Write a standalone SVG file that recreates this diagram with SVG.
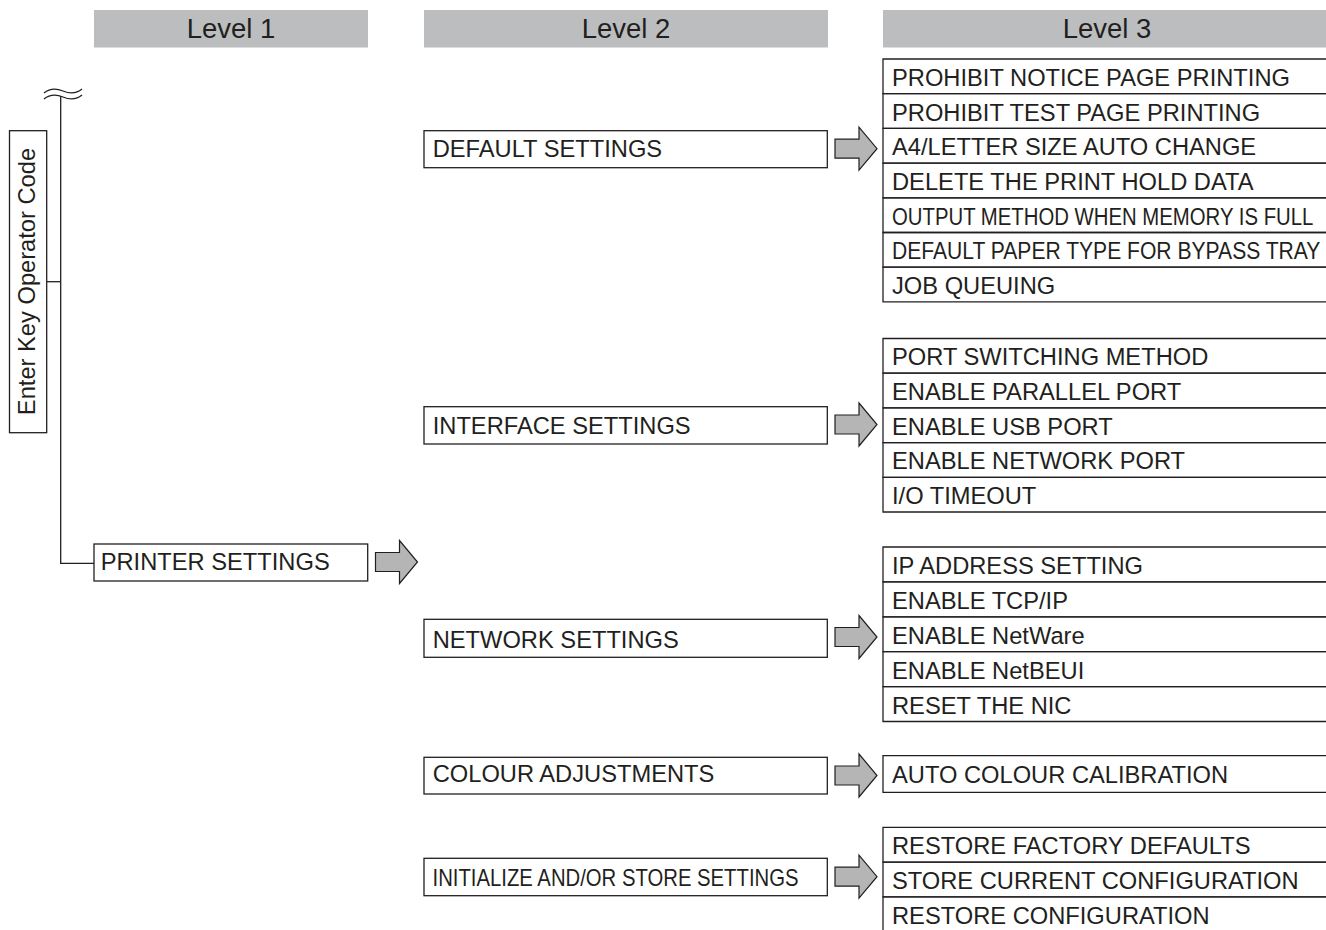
<svg xmlns="http://www.w3.org/2000/svg" width="1326" height="930" viewBox="0 0 1326 930">
<style>
  .hdr{fill:#bcbdbf;stroke:none}
  .ht{font-family:"Liberation Sans",Arial,sans-serif;font-size:27.5px;fill:#231f20;text-anchor:middle}
  .box{fill:#fff;stroke:#231f20;stroke-width:1.3}
  .row{fill:none;stroke:#231f20;stroke-width:1.3}
  .t{font-family:"Liberation Sans",Arial,sans-serif;font-size:23.7px;fill:#231f20}
  .ln{fill:none;stroke:#231f20;stroke-width:1.3}
  .arr{fill:#b5b5b5;stroke:#231f20;stroke-width:1.2;stroke-linejoin:miter}
</style>
<defs>
  <path id="arrow" d="M0,-9.5 H24 V-21.5 L42,0 L24,21.5 V9.5 H0 Z"/>
</defs>
<rect width="1326" height="930" fill="#fff"/>

<g id="headers">
  <rect class="hdr" x="94" y="10" width="274" height="37.5"/>
  <text class="ht" x="231" y="38">Level 1</text>
  <rect class="hdr" x="424" y="10" width="404" height="37.5"/>
  <text class="ht" x="626" y="38">Level 2</text>
  <rect class="hdr" x="883" y="10" width="443" height="37.5"/>
  <text class="ht" x="1107" y="38">Level 3</text>
</g>

<g id="connectors">
  <path class="ln" d="M44,93 C50,88 56,88 63,91 C70,94 76,94 82,89"/>
  <path class="ln" d="M44,99 C50,94 56,94 63,97 C70,100 76,100 82,95"/>
  <path class="ln" d="M60.7,96 V563.3 H94"/>
  <path class="ln" d="M46.7,281.7 H60.7"/>
  <use href="#arrow" class="arr" transform="translate(375.5,562)"/>
  <use href="#arrow" class="arr" transform="translate(835,148.7)"/>
  <use href="#arrow" class="arr" transform="translate(835,424.5)"/>
  <use href="#arrow" class="arr" transform="translate(835,637)"/>
  <use href="#arrow" class="arr" transform="translate(835,775.5)"/>
  <use href="#arrow" class="arr" transform="translate(835,876.7)"/>
</g>

<g id="enter-key">
  <rect class="box" x="9.5" y="130.7" width="37.2" height="302"/>
  <text class="t" text-anchor="middle" transform="translate(35.3,281.5) rotate(-90)">Enter Key Operator Code</text>
</g>

<g id="printer-settings">
  <rect class="box" x="94" y="544" width="273.7" height="37"/>
  <text class="t" x="100.7" y="569.5">PRINTER SETTINGS</text>
</g>

<g id="default-settings">
  <rect class="box" x="424" y="130.7" width="403.3" height="37"/>
  <text class="t" x="432.7" y="157">DEFAULT SETTINGS</text>
</g>
<g id="interface-settings">
  <rect class="box" x="424" y="406.7" width="403.3" height="37.3"/>
  <text class="t" x="432.7" y="434">INTERFACE SETTINGS</text>
</g>
<g id="network-settings">
  <rect class="box" x="424" y="619.3" width="403.3" height="38"/>
  <text class="t" x="432.7" y="648">NETWORK SETTINGS</text>
</g>
<g id="colour-adjustments">
  <rect class="box" x="424" y="757.3" width="403.3" height="36.7"/>
  <text class="t" x="432.7" y="782.3">COLOUR ADJUSTMENTS</text>
</g>
<g id="initialize-store">
  <rect class="box" x="424" y="858.3" width="403.3" height="37.4"/>
  <text class="t" x="432.5" y="885.7" textLength="366" lengthAdjust="spacingAndGlyphs">INITIALIZE AND/OR STORE SETTINGS</text>
</g>

<!-- Level 3: default settings -->
<g id="l3-prohibit-notice"><path class="row" d="M1326,59 H883 V93.7 H1326"/><text class="t" x="892" y="86">PROHIBIT NOTICE PAGE PRINTING</text></g>
<g id="l3-prohibit-test"><path class="row" d="M1326,93.7 H883 V128.4 H1326"/><text class="t" x="892" y="120.5">PROHIBIT TEST PAGE PRINTING</text></g>
<g id="l3-a4-letter"><path class="row" d="M1326,128.4 H883 V163.1 H1326"/><text class="t" x="892" y="155.2">A4/LETTER SIZE AUTO CHANGE</text></g>
<g id="l3-delete-hold"><path class="row" d="M1326,163.1 H883 V197.8 H1326"/><text class="t" x="892" y="189.9">DELETE THE PRINT HOLD DATA</text></g>
<g id="l3-output-method"><path class="row" d="M1326,197.8 H883 V232.5 H1326"/><text class="t" transform="translate(892,224.6) scale(0.858,1)" x="0" y="0">OUTPUT METHOD WHEN MEMORY IS FULL</text></g>
<g id="l3-default-paper"><path class="row" d="M1326,232.5 H883 V267.2 H1326"/><text class="t" transform="translate(892,259.3) scale(0.89,1)" x="0" y="0">DEFAULT PAPER TYPE FOR BYPASS TRAY</text></g>
<g id="l3-job-queuing"><path class="row" d="M1326,267.2 H883 V301.9 H1326"/><text class="t" x="892" y="294">JOB QUEUING</text></g>

<!-- Level 3: interface settings -->
<g id="l3-port-switching"><path class="row" d="M1326,338.5 H883 V373.2 H1326"/><text class="t" x="892" y="365.3">PORT SWITCHING METHOD</text></g>
<g id="l3-parallel"><path class="row" d="M1326,373.2 H883 V407.9 H1326"/><text class="t" x="892" y="400">ENABLE PARALLEL PORT</text></g>
<g id="l3-usb"><path class="row" d="M1326,407.9 H883 V442.6 H1326"/><text class="t" x="892" y="434.7">ENABLE USB PORT</text></g>
<g id="l3-network-port"><path class="row" d="M1326,442.6 H883 V477.3 H1326"/><text class="t" x="892" y="469.4">ENABLE NETWORK PORT</text></g>
<g id="l3-io-timeout"><path class="row" d="M1326,477.3 H883 V512 H1326"/><text class="t" x="892" y="504.1">I/O TIMEOUT</text></g>

<!-- Level 3: network settings -->
<g id="l3-ip-address"><path class="row" d="M1326,547 H883 V581.9 H1326"/><text class="t" x="892" y="574">IP ADDRESS SETTING</text></g>
<g id="l3-tcpip"><path class="row" d="M1326,581.9 H883 V616.8 H1326"/><text class="t" x="892" y="608.9">ENABLE TCP/IP</text></g>
<g id="l3-netware"><path class="row" d="M1326,616.8 H883 V651.7 H1326"/><text class="t" x="892" y="643.8">ENABLE NetWare</text></g>
<g id="l3-netbeui"><path class="row" d="M1326,651.7 H883 V686.6 H1326"/><text class="t" x="892" y="678.7">ENABLE NetBEUI</text></g>
<g id="l3-reset-nic"><path class="row" d="M1326,686.6 H883 V721.5 H1326"/><text class="t" x="892" y="713.6">RESET THE NIC</text></g>

<!-- Level 3: colour -->
<g id="l3-auto-colour"><path class="row" d="M1326,755.7 H883 V792.3 H1326"/><text class="t" x="892" y="783.2">AUTO COLOUR CALIBRATION</text></g>

<!-- Level 3: initialize/store -->
<g id="l3-restore-factory"><path class="row" d="M1326,827.3 H883 V862.1 H1326"/><text class="t" x="892" y="854.3">RESTORE FACTORY DEFAULTS</text></g>
<g id="l3-store-current"><path class="row" d="M1326,862.1 H883 V896.9 H1326"/><text class="t" x="892" y="889.1">STORE CURRENT CONFIGURATION</text></g>
<g id="l3-restore-config"><path class="row" d="M1326,896.9 H883 V931"/><text class="t" x="892" y="923.6">RESTORE CONFIGURATION</text></g>
</svg>
